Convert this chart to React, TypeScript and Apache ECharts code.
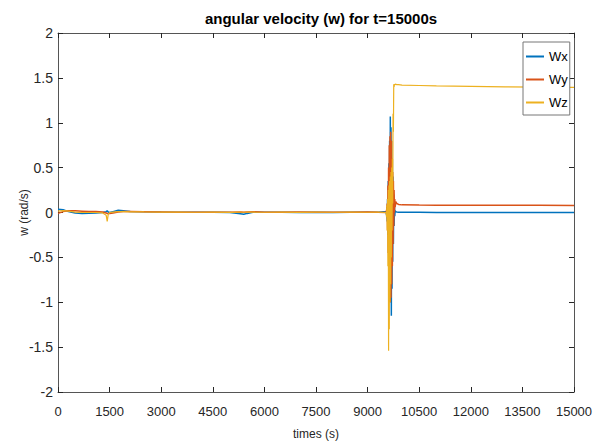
import React, { useEffect, useRef } from "react";
import * as echarts from "echarts";

const TITLE = "angular velocity (w) for t=15000s";
const X_NAME = "times (s)";
const Y_NAME = "w (rad/s)";
const SERIES_NAMES = ["Wx", "Wy", "Wz"];
const COLORS = ["#0072BD", "#D95319", "#EDB120"];

// time samples (s)
const T = [
  0, 150, 300, 500, 700, 900, 1100, 1300, 1400, 1430, 1460, 1500, 1600, 1750, 1900, 2100, 2500, 3000, 3500, 4000,
  4500, 5000, 5300, 5400, 5500, 5700, 6000, 6500, 7000, 7500, 8000, 8500, 9000, 9300, 9540,
  9550, 9560, 9570, 9580, 9590, 9600, 9610, 9620, 9630, 9640, 9650, 9660, 9670, 9680, 9690, 9700,
  9710, 9720, 9730, 9740, 9750, 9760, 9770, 9780, 9790, 9800,
  9820, 9850, 9900, 10000, 10500, 11000, 12000, 13000, 14000, 15000,
];

const WX = [
  0.035, 0.03, 0.01, -0.005, -0.01, -0.008, -0.005, 0.0, 0.01, 0.02, 0.005, 0.0, 0.01, 0.025, 0.02, 0.012, 0.008, 0.005, 0.003, 0.002,
  0.004, 0.0, -0.015, -0.02, -0.01, 0.005, 0.002, 0.004, 0.0, 0.003, 0.001, 0.004, 0.002, 0.003, 0.01,
  -0.03, 0.06, -0.1, 0.15, -0.25, 0.35, -0.45, 0.55, -0.7, 0.8, -0.9, 1.07, -1.0, 0.95, -1.15, 0.8,
  -0.85, 0.6, -0.55, 0.4, -0.35, 0.2, -0.15, 0.08, -0.04, 0.02,
  0.01, 0.005, 0.003, 0.002, 0.002, 0.001, 0.001, 0.001, 0.001, 0.001,
];

const WY = [
  -0.01, 0.01, 0.02, 0.02, 0.015, 0.01, 0.01, 0.005, -0.005, -0.01, -0.015, -0.01, -0.005, 0.005, 0.01, 0.01, 0.008, 0.006, 0.004, 0.003,
  0.002, 0.004, 0.006, 0.003, 0.005, 0.008, 0.004, 0.003, 0.005, 0.002, 0.004, 0.003, 0.005, 0.002, 0.0,
  0.03, -0.05, 0.1, -0.2, 0.3, -0.45, 0.5, -0.7, 0.75, -0.9, 0.85, -1.0, 0.9, -0.95, 0.8, -0.8,
  0.6, -0.6, 0.45, -0.35, 0.35, -0.15, 0.25, 0.0, 0.15, 0.06,
  0.12, 0.1, 0.09, 0.085, 0.083, 0.082, 0.081, 0.08, 0.08, 0.079,
];

const WZ = [
  0.015, 0.02, 0.015, 0.005, 0.0, 0.0, 0.0, -0.005, -0.03, -0.1, -0.02, 0.0, 0.005, 0.01, 0.01, 0.008, 0.006, 0.005, 0.004, 0.003,
  0.005, 0.002, 0.004, 0.003, 0.005, 0.004, 0.003, 0.005, 0.002, 0.004, 0.003, 0.005, 0.003, 0.004, 0.0,
  -0.05, 0.08, -0.2, 0.15, -0.6, 0.25, -1.54, 0.3, -1.3, 0.35, -1.0, 0.4, -0.8, 0.45, -0.5, 0.5,
  -0.2, 0.6, 0.1, 1.1, 0.9, 1.43, 1.4, 1.43, 1.42, 1.43,
  1.43, 1.425, 1.425, 1.42, 1.415, 1.41, 1.405, 1.4, 1.398, 1.395,
];

const X_MIN = 0;
const X_MAX = 15000;
const X_STEP = 1500;
const Y_MIN = -2;
const Y_MAX = 2;
const Y_STEP = 0.5;

const FONT = "'Liberation Sans', Arial, Helvetica, sans-serif";
const AXIS_COLOR = "#262626";

export default function App() {
  const ref = useRef<HTMLDivElement>(null);
  useEffect(() => {
    if (!ref.current) return;
    const chart = echarts.init(ref.current, null, { renderer: "svg" });
    const values = [WX, WY, WZ];
    const tick = () => ({ show: true, inside: true, length: 5, lineStyle: { color: AXIS_COLOR, width: 1 } });
    const line = () => ({ show: true, onZero: false, lineStyle: { color: "#555", width: 1 } });
    chart.setOption({
      animation: false,
      backgroundColor: "#fff",
      title: {
        text: TITLE,
        left: 316,
        textAlign: "center",
        top: 6,
        textStyle: { fontFamily: FONT, fontSize: 15, fontWeight: "bold", color: "#000" },
      },
      legend: {
        orient: "vertical",
        left: 523,
        top: 42,
        icon: "rect",
        itemWidth: 18,
        itemHeight: 2,
        itemGap: 8,
        padding: [7, 2, 5, 3],
        borderColor: "#777",
        borderWidth: 1,
        backgroundColor: "#fff",
        textStyle: { fontFamily: FONT, fontSize: 13, color: "#000", lineHeight: 15 },
        data: SERIES_NAMES,
      },
      grid: { left: 58, right: 26, top: 33, bottom: 48, containLabel: false },
      xAxis: [
        {
          type: "value",
          min: X_MIN,
          max: X_MAX,
          interval: X_STEP,
          position: "bottom",
          axisLine: line(),
          axisTick: tick(),
          splitLine: { show: false },
          axisLabel: {
            color: AXIS_COLOR,
            fontFamily: FONT,
            fontSize: 13,
            margin: 13,
            formatter: (v: number) => String(v),
          },
          name: X_NAME,
          nameLocation: "middle",
          nameGap: 36,
          nameMoveOverlap: false,
          nameTextStyle: { fontFamily: FONT, fontSize: 12, color: AXIS_COLOR },
        },
        {
          type: "value",
          min: X_MIN,
          max: X_MAX,
          interval: X_STEP,
          position: "top",
          axisLine: line(),
          axisTick: tick(),
          splitLine: { show: false },
          axisLabel: { show: false },
        },
      ],
      yAxis: [
        {
          type: "value",
          min: Y_MIN,
          max: Y_MAX,
          interval: Y_STEP,
          position: "left",
          axisLine: line(),
          axisTick: tick(),
          splitLine: { show: false },
          axisLabel: {
            color: AXIS_COLOR,
            fontFamily: FONT,
            fontSize: 14,
            margin: 5,
            formatter: (v: number) => String(v),
          },
          name: Y_NAME,
          nameLocation: "middle",
          nameGap: 28,
          nameMoveOverlap: false,
          nameTextStyle: { fontFamily: FONT, fontSize: 12, color: AXIS_COLOR },
        },
        {
          type: "value",
          min: Y_MIN,
          max: Y_MAX,
          interval: Y_STEP,
          position: "right",
          axisLine: line(),
          axisTick: tick(),
          splitLine: { show: false },
          axisLabel: { show: false },
        },
      ],
      series: SERIES_NAMES.map((name, i) => ({
        name,
        type: "line",
        xAxisIndex: 0,
        yAxisIndex: 0,
        showSymbol: false,
        symbol: "none",
        data: T.map((t, k) => [t, values[i][k]]),
        lineStyle: { color: COLORS[i], width: i === 2 ? 1.2 : 1.5 },
        itemStyle: { color: COLORS[i] },
        color: COLORS[i],
      })),
    });
    return () => chart.dispose();
  }, []);
  return (
    <div
      ref={ref}
      style={{ position: "fixed", left: 0, top: 0, width: 600, height: 445, background: "#fff" }}
    />
  );
}
